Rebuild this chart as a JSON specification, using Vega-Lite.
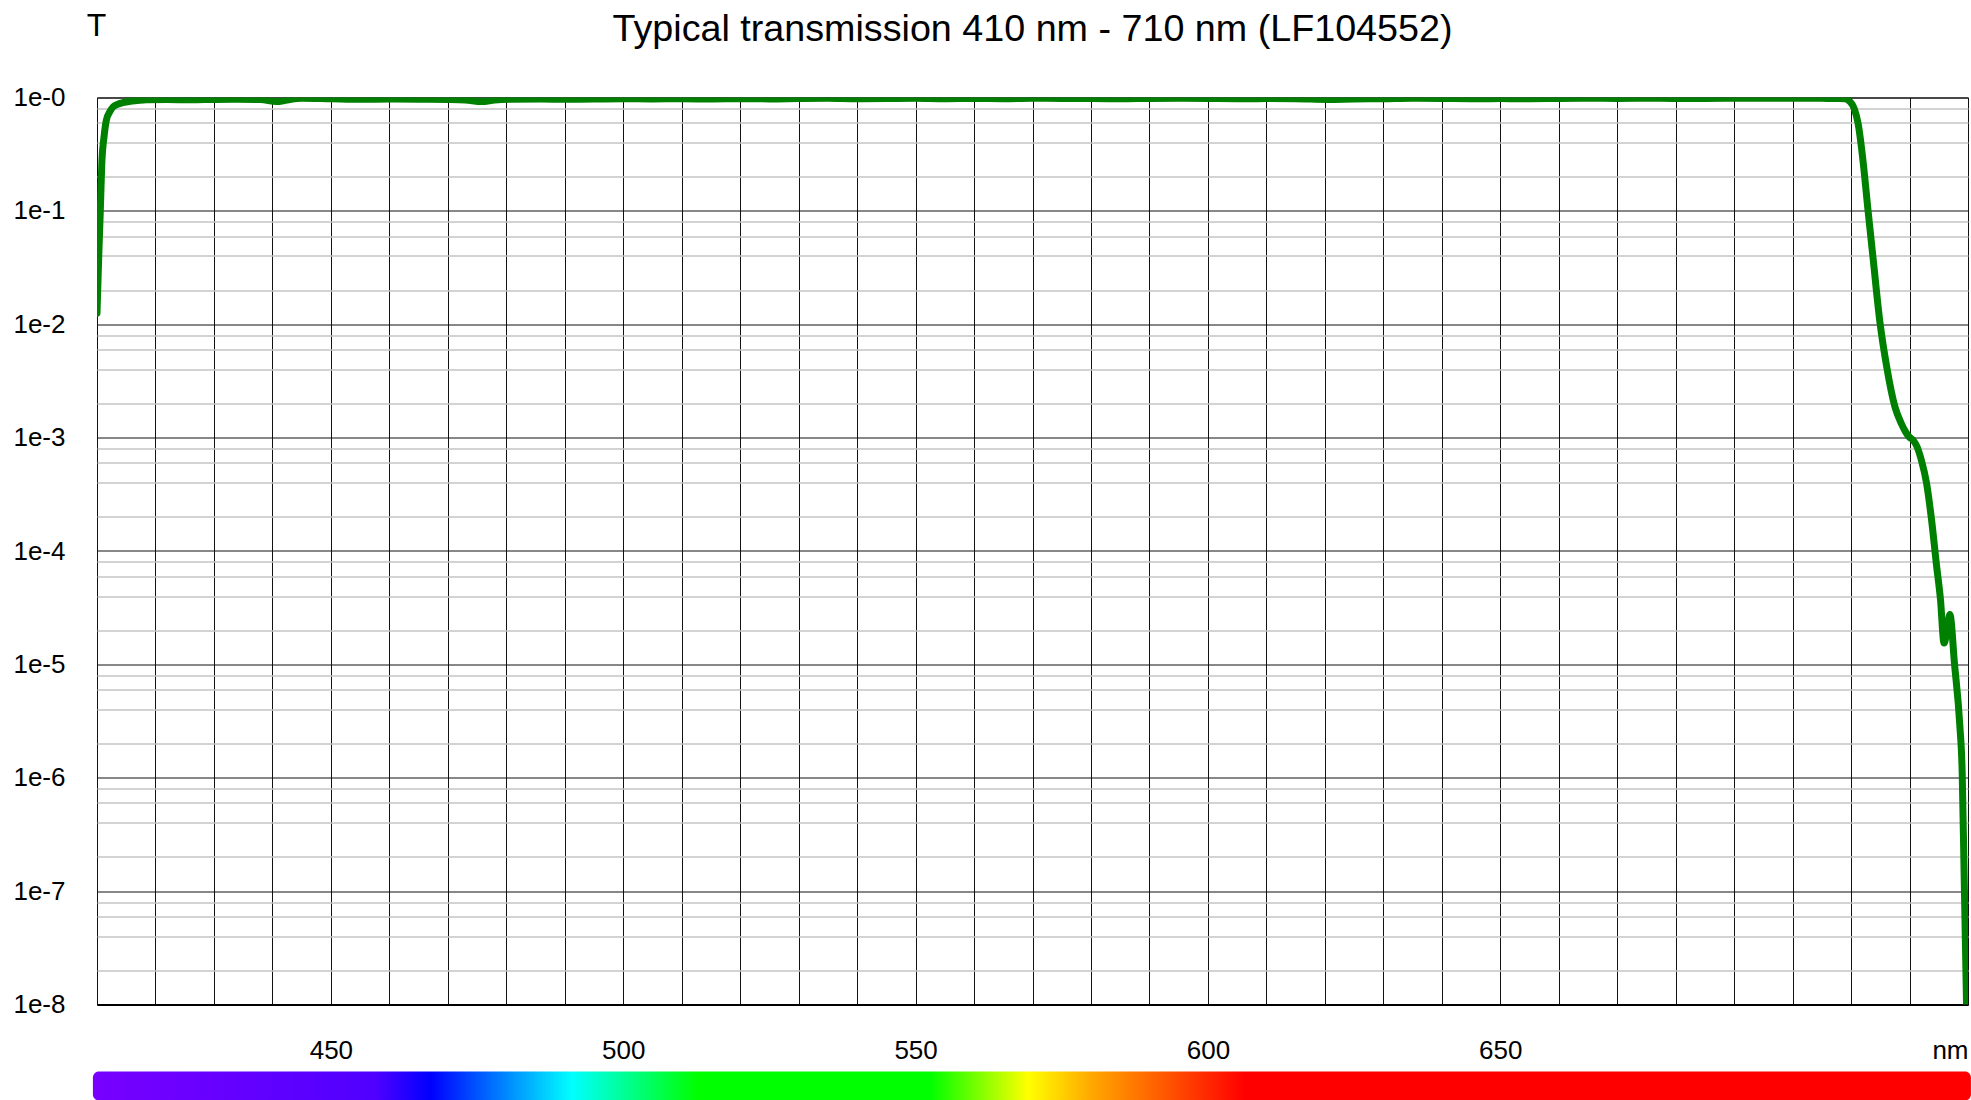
{
  "$schema": "https://vega.github.io/schema/vega-lite/v6.json",
  "background": "white",
  "padding": {"left": 12, "top": 8.5, "right": 3, "bottom": 0},
  "config": {"font": "Liberation Sans", "view": {"stroke": null}},
  "spacing": 8,
  "vconcat": [
    {
      "width": 1871,
      "height": 907,
      "view": {"stroke": "black", "strokeWidth": 1},
      "title": {"text": "Typical transmission 410 nm - 710 nm (LF104552)", "fontSize": 37.7, "fontWeight": "normal", "color": "black", "frame": "group", "anchor": "middle", "offset": -39, "dx": 0},
      "data": {"values": [
        {"nm": 410.0, "T": 0.0125},
        {"nm": 410.3, "T": 0.04},
        {"nm": 410.55, "T": 0.095},
        {"nm": 410.85, "T": 0.28},
        {"nm": 411.2, "T": 0.45},
        {"nm": 411.6, "T": 0.63},
        {"nm": 412.2, "T": 0.75},
        {"nm": 412.8, "T": 0.83},
        {"nm": 413.5, "T": 0.87},
        {"nm": 414.4, "T": 0.9},
        {"nm": 416, "T": 0.93},
        {"nm": 418.5, "T": 0.955},
        {"nm": 422, "T": 0.96},
        {"nm": 426, "T": 0.955},
        {"nm": 430, "T": 0.962},
        {"nm": 434, "T": 0.965},
        {"nm": 438, "T": 0.96},
        {"nm": 440.7, "T": 0.92},
        {"nm": 442.5, "T": 0.95},
        {"nm": 445, "T": 0.985},
        {"nm": 450, "T": 0.975},
        {"nm": 455, "T": 0.965},
        {"nm": 460, "T": 0.97},
        {"nm": 465, "T": 0.965},
        {"nm": 470, "T": 0.96},
        {"nm": 473, "T": 0.95},
        {"nm": 475.8, "T": 0.92},
        {"nm": 478, "T": 0.95},
        {"nm": 481, "T": 0.965},
        {"nm": 486, "T": 0.97},
        {"nm": 490, "T": 0.965},
        {"nm": 495, "T": 0.97},
        {"nm": 500, "T": 0.975},
        {"nm": 505, "T": 0.97},
        {"nm": 510, "T": 0.975},
        {"nm": 515, "T": 0.97},
        {"nm": 520, "T": 0.975},
        {"nm": 525, "T": 0.972},
        {"nm": 530, "T": 0.98},
        {"nm": 535, "T": 0.985},
        {"nm": 540, "T": 0.975},
        {"nm": 545, "T": 0.98},
        {"nm": 550, "T": 0.985},
        {"nm": 555, "T": 0.975},
        {"nm": 560, "T": 0.98},
        {"nm": 565, "T": 0.975},
        {"nm": 570, "T": 0.985},
        {"nm": 575, "T": 0.98},
        {"nm": 580, "T": 0.978},
        {"nm": 585, "T": 0.975},
        {"nm": 590, "T": 0.982},
        {"nm": 595, "T": 0.985},
        {"nm": 600, "T": 0.98},
        {"nm": 605, "T": 0.975},
        {"nm": 610, "T": 0.978},
        {"nm": 615, "T": 0.975},
        {"nm": 620.5, "T": 0.96},
        {"nm": 625, "T": 0.97},
        {"nm": 630, "T": 0.975},
        {"nm": 635, "T": 0.985},
        {"nm": 640, "T": 0.98},
        {"nm": 645, "T": 0.975},
        {"nm": 650, "T": 0.978},
        {"nm": 655, "T": 0.975},
        {"nm": 660, "T": 0.98},
        {"nm": 665, "T": 0.985},
        {"nm": 670, "T": 0.982},
        {"nm": 675, "T": 0.985},
        {"nm": 680, "T": 0.98},
        {"nm": 685, "T": 0.982},
        {"nm": 690, "T": 0.985},
        {"nm": 695, "T": 0.983},
        {"nm": 700, "T": 0.985},
        {"nm": 705, "T": 0.983},
        {"nm": 708, "T": 0.98},
        {"nm": 709, "T": 0.975},
        {"nm": 709.8, "T": 0.92},
        {"nm": 710.3, "T": 0.85},
        {"nm": 710.6, "T": 0.78},
        {"nm": 711.2, "T": 0.59},
        {"nm": 712.1, "T": 0.26},
        {"nm": 712.9, "T": 0.101},
        {"nm": 713.8, "T": 0.0367},
        {"nm": 714.96, "T": 0.0102},
        {"nm": 716.1, "T": 0.0042},
        {"nm": 717.5, "T": 0.00187},
        {"nm": 718.6, "T": 0.00133},
        {"nm": 719.3, "T": 0.00113},
        {"nm": 719.9, "T": 0.00102},
        {"nm": 720.6, "T": 0.00095},
        {"nm": 721.2, "T": 0.00085},
        {"nm": 722.0, "T": 0.00064},
        {"nm": 722.9, "T": 0.0004},
        {"nm": 723.8, "T": 0.000182},
        {"nm": 724.6, "T": 0.000076},
        {"nm": 725.3, "T": 0.000037},
        {"nm": 725.9, "T": 0.0000154},
        {"nm": 726.4, "T": 0.0000195},
        {"nm": 726.9, "T": 0.0000276},
        {"nm": 727.7, "T": 0.00001},
        {"nm": 728.6, "T": 0.0000029},
        {"nm": 729.0, "T": 0.00000114},
        {"nm": 729.35, "T": 0.00000013},
        {"nm": 729.75, "T": 0.00000001}
      ]},
      "mark": {"type": "line", "color": "#008000", "strokeWidth": 7, "strokeCap": "round", "strokeJoin": "round", "interpolate": "monotone", "clip": true},
      "encoding": {
        "x": {
          "field": "nm", "type": "quantitative",
          "scale": {"domain": [410, 730], "nice": false, "zero": false},
          "axis": {
            "title": null,
            "values": [410, 420, 430, 440, 450, 460, 470, 480, 490, 500, 510, 520, 530, 540, 550, 560, 570, 580, 590, 600, 610, 620, 630, 640, 650, 660, 670, 680, 690, 700, 710, 720, 730],
            "labelExpr": "datum.value == 730 ? 'nm' : ((datum.value % 50 == 0 && datum.value >= 450 && datum.value <= 650) ? datum.label : '')",
            "labelFlush": true,
            "labelOverlap": false,
            "labelFontSize": 26,
            "labelColor": "black",
            "labelPadding": 32.5,
            "ticks": false,
            "domain": true,
            "domainColor": "black",
            "domainWidth": 2,
            "grid": true,
            "gridColor": "#111111",
            "gridWidth": 1,
            "gridOpacity": 1
          }
        },
        "y": {
          "field": "T", "type": "quantitative",
          "scale": {"type": "log", "domain": [0.00000001, 1], "nice": false},
          "axis": {
            "title": "T",
            "titleAngle": 0,
            "titleFontSize": 32,
            "titleFontWeight": "normal",
            "titleColor": "black",
            "titleAlign": "center",
            "titleBaseline": "middle",
            "titleX": -1,
            "titleY": -72,
            "values": [1, 0.8, 0.6, 0.4, 0.2, 0.1, 0.08, 0.06, 0.04, 0.02, 0.01, 0.008, 0.006, 0.004, 0.002, 0.001, 0.0008, 0.0006, 0.0004, 0.0002, 0.0001, 0.00008, 0.00006, 0.00004, 0.00002, 0.00001, 0.000008, 0.000006, 0.000004, 0.000002, 0.000001, 0.0000008, 0.0000006, 0.0000004, 0.0000002, 0.0000001, 0.00000008, 0.00000006, 0.00000004, 0.00000002, 0.00000001],
            "labelExpr": "abs(log(datum.value)/LN10 - round(log(datum.value)/LN10)) < 0.01 ? '1e-' + round(abs(log(datum.value)/LN10)) : ''",
            "labelOverlap": false,
            "labelFontSize": 26,
            "labelColor": "black",
            "labelPadding": 32,
            "labelBaseline": "middle",
            "ticks": false,
            "domain": false,
            "grid": true,
            "gridColor": {"condition": {"test": "abs(log(datum.value)/LN10 - round(log(datum.value)/LN10)) < 0.01", "value": "#111111"}, "value": "#c4c4c4"},
            "gridWidth": {"condition": {"test": "abs(log(datum.value)/LN10 - round(log(datum.value)/LN10)) < 0.01", "value": 1}, "value": 1.5},
            "gridOpacity": 1
          }
        }
      }
    },
    {
      "width": 1871,
      "height": 29,
      "view": {"stroke": null},
      "data": {"values": [{"start": 409.3, "end": 730.5}]},
      "mark": {
        "type": "rect",
        "clip": false,
        "cornerRadius": 6,
        "fill": {
          "gradient": "linear", "x1": 0, "x2": 1, "y1": 0, "y2": 0,
          "stops": [
            {"offset": 0, "color": "#7800ff"},
            {"offset": 0.15, "color": "#5000ff"},
            {"offset": 0.18, "color": "#0000ff"},
            {"offset": 0.255, "color": "#00ffff"},
            {"offset": 0.322, "color": "#00ff00"},
            {"offset": 0.446, "color": "#00ff00"},
            {"offset": 0.498, "color": "#ffff00"},
            {"offset": 0.533, "color": "#ffa500"},
            {"offset": 0.613, "color": "#ff0000"},
            {"offset": 1, "color": "#ff0000"}
          ]
        }
      },
      "encoding": {
        "x": {"field": "start", "type": "quantitative", "scale": {"domain": [410, 730], "nice": false, "zero": false}, "axis": null},
        "x2": {"field": "end"}
      }
    }
  ]
}
